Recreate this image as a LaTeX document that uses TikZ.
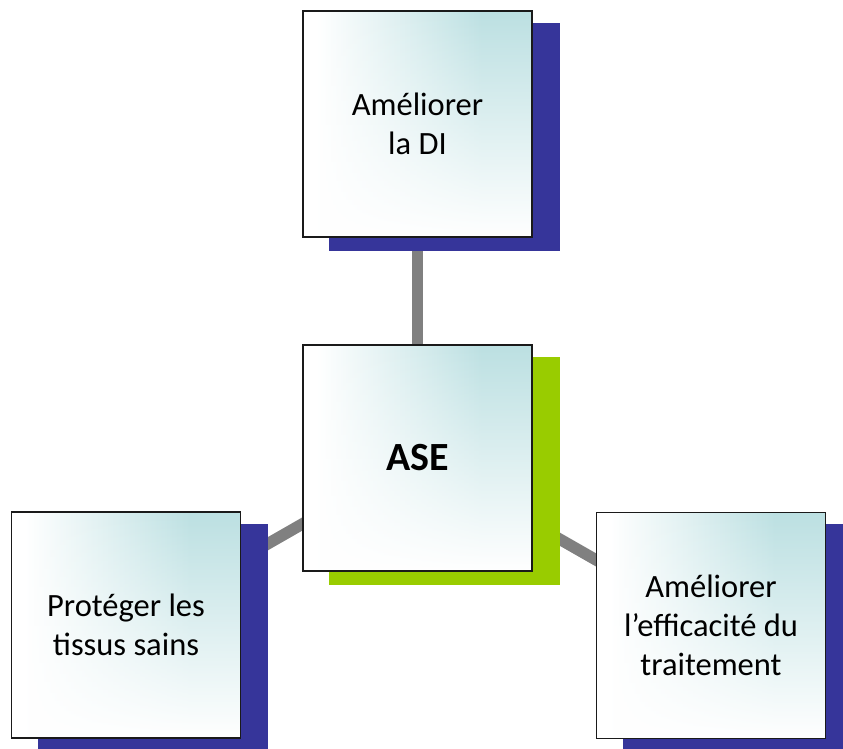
\documentclass[tikz,border=0pt]{standalone}
\usepackage{fontspec}
\setmainfont{Carlito}
\usetikzlibrary{fadings}
\definecolor{navyc}{HTML}{36359A}
\definecolor{greenc}{HTML}{99CC00}
\definecolor{linkc}{HTML}{808080}
\definecolor{tealc}{HTML}{BCE0E2}
\definecolor{edgec}{HTML}{1A1A1A}
\pgfdeclarehorizontalshading{cardh}{100bp}{color(0bp)=(white); color(28bp)=(white); color(64bp)=(tealc); color(100bp)=(tealc)}
\tikzfading[name=vfade, top color=transparent!100, middle color=transparent!80, bottom color=transparent!0]
\pgfdeclarelayer{links}
\pgfdeclarelayer{shadows}
\pgfsetlayers{links,shadows,main}
\begin{document}
\begin{tikzpicture}[x=1pt,y=-1pt,
  card/.style={draw=edgec, line width=1.5pt, minimum width=229pt, minimum height=226pt,
    inner sep=0pt, align=center, font=\fontsize{32.5}{39}\selectfont,
    path picture={
      \shade[shading=cardh] (path picture bounding box.south west) rectangle (path picture bounding box.north east);
      \fill[white, path fading=vfade] (path picture bounding box.south west) rectangle (path picture bounding box.north east);
    }},
  link/.style={draw=linkc, line width=11.5pt},
  navyshadow/.style={fill=navyc},
  greenshadow/.style={fill=greenc},
]
\useasboundingbox (0,0) rectangle (843,748);

\node[card] (top) at (417.5,124) {Améliorer\\la DI};
\node[card, font=\fontsize{40}{46}\selectfont\bfseries] (ase) at (417.5,458) {ASE};
\node[card] (left) at (126,625) {Protéger les\\tissus sains};
\node[card] (right) at (711,625.5) {Améliorer\\l’efficacité du\\traitement};

\begin{pgfonlayer}{shadows}
  \fill[navyshadow] ([shift={(27,13)}]top.north west) rectangle ([shift={(27,13)}]top.south east);
  \fill[greenshadow] ([shift={(27,13)}]ase.north west) rectangle ([shift={(27,13)}]ase.south east);
  \fill[navyshadow] ([shift={(27,13)}]left.north west) rectangle ([shift={(27,13)}]left.south east);
  \fill[navyshadow] ([shift={(27,12)}]right.north west) rectangle ([shift={(27,12)}]right.south east);
\end{pgfonlayer}

\begin{pgfonlayer}{links}
  \draw[link] (ase.center) -- (top.center);
  \draw[link] (ase.center) -- (left.center);
  \draw[link] (ase.center) -- (right.center);
\end{pgfonlayer}
\end{tikzpicture}
\end{document}
